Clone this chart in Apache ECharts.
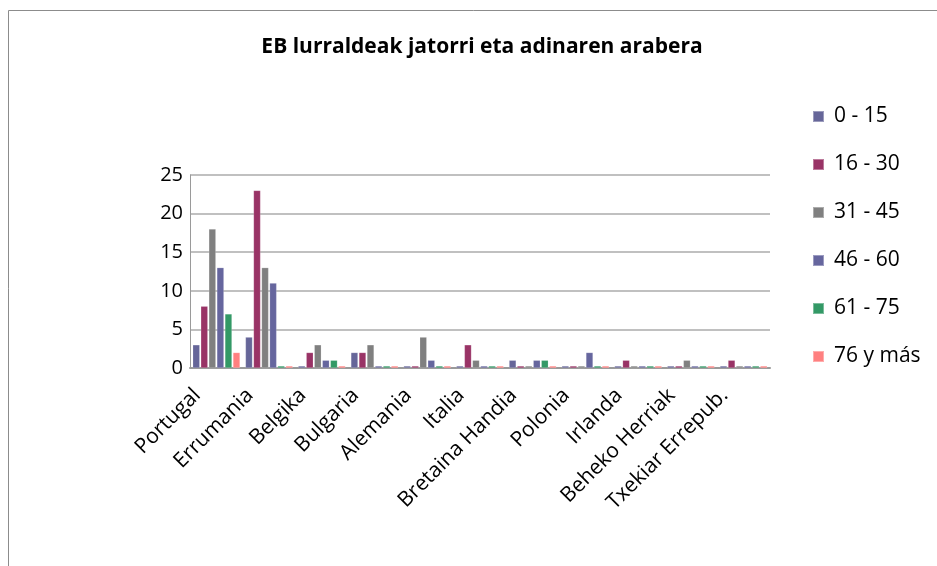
<!DOCTYPE html>
<html>
<head>
<meta charset="utf-8">
<script src="https://cdn.jsdelivr.net/npm/echarts@6/dist/echarts.min.js"></script>
<style>
  html, body { margin: 0; padding: 0; background: #fff; }
  #chart { width: 937px; height: 566px; }
</style>
</head>
<body>
<div id="chart"></div>
<script>
// countries (categories)
const countries = ['Portugal', 'Errumania', 'Belgika', 'Bulgaria', 'Alemania', 'Italia',
  'Bretaina Handia', 'Polonia', 'Irlanda', 'Beheko Herriak', 'Txekiar Errepub.']

// values per age group
const age0_15   = [3, 4, 0, 2, 0, 0, 1, 0, 0, 0, 0]
const age16_30  = [8, 23, 2, 2, 0, 3, 0, 0, 1, 0, 1]
const age31_45  = [18, 13, 3, 3, 4, 1, 0, 0, 0, 1, 0]
const age46_60  = [13, 11, 1, 0, 1, 0, 1, 2, 0, 0, 0]
const age61_75  = [7, 0, 1, 0, 0, 0, 1, 0, 0, 0, 0]
const age76plus = [2, 0, 0, 0, 0, 0, 0, 0, 0, 0, 0]

const yTicks = [0, 5, 10, 15, 20, 25]

const seriesNames = ['0 - 15', '16 - 30', '31 - 45', '46 - 60', '61 - 75', '76 y más']
const seriesData = [age0_15, age16_30, age31_45, age46_60, age61_75, age76plus]
const colors = ['#666699', '#993366', '#808080', '#66669e', '#339966', '#ff8080']

const font = '"Open Sans", Lato, sans-serif'

const myChart = echarts.init(document.getElementById('chart'))

myChart.setOption({
  animation: false,
  color: colors,
  title: {
    text: 'EB lurraldeak jatorri eta adinaren arabera',
    left: 477,
    textAlign: 'center',
    top: 32,
    textStyle: { fontFamily: font, fontWeight: 'bold', fontSize: 21, color: '#000' }
  },
  legend: {
    orient: 'vertical',
    left: 807,
    top: 101,
    itemWidth: 11,
    itemHeight: 11,
    itemGap: 27,
    icon: 'rect',
    textStyle: { fontFamily: font, fontSize: 21, color: '#000', padding: [0, 0, 0, 5] },
    data: seriesNames
  },
  grid: { left: 190, right: 167, top: 175, bottom: 198 },
  xAxis: {
    type: 'category',
    data: countries,
    axisLine: { lineStyle: { color: '#9a9a9a', width: 2 } },
    axisTick: { show: false },
    axisLabel: {
      rotate: 45,
      interval: 0,
      margin: 5,
      padding: [0, 27, 0, 0],
      fontFamily: font,
      fontSize: 21,
      color: '#000'
    }
  },
  yAxis: {
    type: 'value',
    min: yTicks[0],
    max: yTicks[yTicks.length - 1],
    interval: 5,
    axisLine: { show: true, lineStyle: { color: '#9a9a9a', width: 1 } },
    axisTick: { show: false },
    splitLine: { lineStyle: { color: '#c0c0c0', width: 2 } },
    axisLabel: { fontFamily: font, fontSize: 20, color: '#000', margin: 7 }
  },
  graphic: [{
    type: 'rect',
    shape: { x: 8.5, y: 10.5, width: 960, height: 600 },
    style: { fill: 'none', stroke: '#8c8c8c', lineWidth: 1 },
    silent: true,
    z: -10
  }],
  series: seriesNames.map((name, i) => ({
    name: name,
    type: 'bar',
    data: seriesData[i],
    barWidth: 7,
    barGap: '15%',
    barMinHeight: 2,
    itemStyle: { color: colors[i], borderColor: 'rgba(255,255,255,0.35)', borderWidth: 0.5 }
  }))
})
</script>
</body>
</html>
